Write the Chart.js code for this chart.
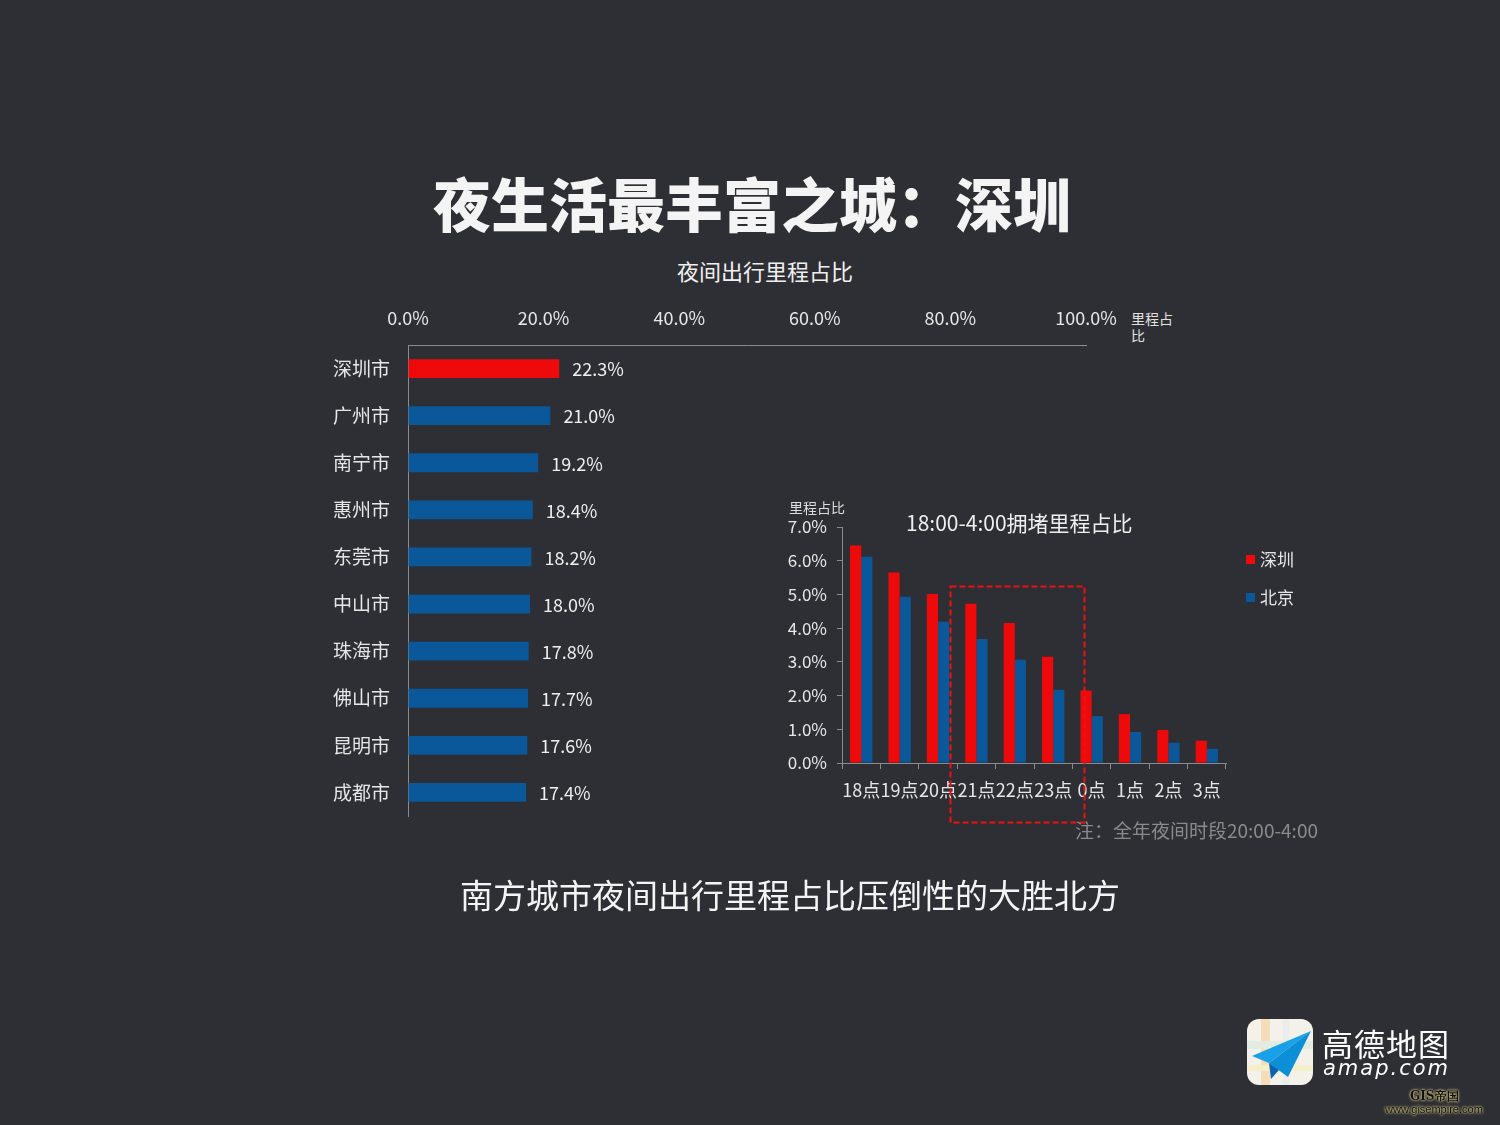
<!DOCTYPE html>
<html><head><meta charset="utf-8">
<script src="https://cdn.jsdelivr.net/npm/chart.js@4"></script>
<style>
html,body{margin:0;padding:0;background:#2e2f34;}
#page{position:relative;width:1500px;height:1125px;overflow:hidden;background:#2e2f34;font-family:"Noto Sans CJK SC","Noto Sans",sans-serif;color:#f2f2f2;}
.t{position:absolute;white-space:nowrap;line-height:1;}
canvas{position:absolute;}
</style></head>
<body><div id="page">
<div class="t" style="left:0;width:1504px;top:173px;text-align:center;font-size:58px;font-weight:900;color:#f4f4f4;">夜生活最丰富之城：深圳</div>
<div class="t" style="left:0;width:1530px;top:259px;text-align:center;font-size:22px;color:#f0f0f0;">夜间出行里程占比</div>
<div class="t" style="left:1131px;top:310px;font-size:14px;line-height:17px;color:#e0e0e0;">里程占<br>比</div>
<div style="position:absolute;left:300px;top:290px;width:900px;height:540px;"><canvas id="c1" width="900" height="540"></canvas></div>
<div class="t" style="left:789px;top:500px;font-size:14px;color:#dcdcdc;">里程占比</div>
<div class="t" style="left:906px;top:512px;font-size:21px;color:#eeeeee;">18:00-4:00拥堵里程占比</div>
<div style="position:absolute;left:760px;top:480px;width:480px;height:345px;"><canvas id="c2" width="480" height="345"></canvas></div>
<div style="position:absolute;left:1246px;top:555px;width:9px;height:9px;background:#ee0a0a;"></div>
<div class="t" style="left:1260px;top:550px;font-size:17px;color:#e6e6e6;">深圳</div>
<div style="position:absolute;left:1246px;top:593px;width:9px;height:9px;background:#0a589a;"></div>
<div class="t" style="left:1260px;top:588px;font-size:17px;color:#e6e6e6;">北京</div>
<svg style="position:absolute;left:0;top:0;" width="1500" height="1125">
<rect x="950.5" y="586.5" width="134" height="236" fill="none" stroke="#ee1111" stroke-width="2" stroke-dasharray="6,3"/>
</svg>
<div class="t" style="left:1075px;top:820px;font-size:19px;color:#8a8a8a;">注：全年夜间时段20:00-4:00</div>
<div class="t" style="left:0;width:1580px;top:878px;text-align:center;font-size:33px;color:#f4f4f4;">南方城市夜间出行里程占比压倒性的大胜北方</div>
<svg style="position:absolute;left:1247px;top:1019px;" width="66" height="66" viewBox="0 0 66 66">
<defs><clipPath id="rc"><rect x="0" y="0" width="66" height="66" rx="12"/></clipPath></defs>
<g clip-path="url(#rc)">
<rect width="66" height="66" fill="#f3f1ea"/>
<rect x="14" y="0" width="9" height="66" fill="#f4dcb8"/>
<rect x="0" y="22" width="66" height="8" fill="#e2ece0"/>
<rect x="36" y="0" width="6" height="66" fill="#ececec"/>
<rect x="0" y="46" width="66" height="6" fill="#f4efc8"/>
<polygon points="64,12 5,37 22,44" fill="#1aa0e6"/>
<polygon points="64,12 22,44 41,58" fill="#0d8fd8"/>
<polygon points="22,44 24,60 32,51" fill="#0a63b0"/>
</g></svg>
<div class="t" style="left:1322px;top:1027px;font-size:31px;color:#ffffff;letter-spacing:1px;">高德地图</div>
<div class="t" style="left:1323px;top:1058px;font-size:21px;color:#ffffff;font-style:italic;letter-spacing:2px;font-family:'DejaVu Sans',sans-serif;">amap.com</div>
<div class="t" style="left:1410px;top:1090px;font-size:12px;font-weight:bold;color:#111;text-shadow:0 0 3px #e8d890,0 0 2px #e8d890;font-family:'DejaVu Serif',serif;">GIS帝国</div>
<div class="t" style="left:1385px;top:1104px;font-size:11px;color:#111;text-shadow:0 0 3px #e8d890,0 0 2px #e8d890;font-family:'Liberation Sans',sans-serif;">www.gisempire.com</div>
</div>
<script>
// ---- data ----
const cities = ['深圳市','广州市','南宁市','惠州市','东莞市','中山市','珠海市','佛山市','昆明市','成都市'];
const cityShare = [22.3, 21.0, 19.2, 18.4, 18.2, 18.0, 17.8, 17.7, 17.6, 17.4];
const shareTicks = [0, 20, 40, 60, 80, 100];
const hours = ['18点','19点','20点','21点','22点','23点','0点','1点','2点','3点'];
const shenzhenJam = [6.45, 5.65, 5.01, 4.72, 4.15, 3.15, 2.15, 1.45, 0.98, 0.66];
const beijingJam = [6.12, 4.93, 4.19, 3.68, 3.06, 2.17, 1.39, 0.92, 0.60, 0.42];
const jamTicks = [0, 1, 2, 3, 4, 5, 6, 7];

const RED = '#ee0a0a', BLUE = '#0a589a';
const FONT = '"Noto Sans CJK SC","Noto Sans",sans-serif';
Chart.defaults.font.family = FONT;
Chart.defaults.color = '#e6e6e6';
Chart.defaults.animation = false;

const valueLabels = {
  id: 'valueLabels',
  afterDatasetsDraw(chart) {
    const ctx = chart.ctx;
    const meta = chart.getDatasetMeta(0);
    ctx.save();
    ctx.font = '18px ' + FONT;
    ctx.fillStyle = '#eeeeee';
    ctx.textAlign = 'left';
    ctx.textBaseline = 'middle';
    meta.data.forEach((bar, i) => {
      ctx.fillText(chart.data.datasets[0].data[i].toFixed(1) + '%', bar.x + 13, bar.y + 1);
    });
    ctx.restore();
  }
};

new Chart(document.getElementById('c1'), {
  type: 'bar',
  data: {
    labels: cities,
    datasets: [{
      data: cityShare,
      backgroundColor: cities.map((c, i) => i === 0 ? RED : BLUE),
      barPercentage: 0.8,
      categoryPercentage: 0.5
    }]
  },
  options: {
    indexAxis: 'y',
    responsive: false,
    layout: { padding: { left: 0, right: 114, top: 0, bottom: 14 } },
    plugins: { legend: { display: false }, tooltip: { enabled: false } },
    scales: {
      x: {
        position: 'top', min: 0, max: 100,
        afterBuildTicks: s => { s.ticks = shareTicks.map(v => ({ value: v })); },
        afterFit: s => { s.height = 55; },
        ticks: { callback: v => Number(v).toFixed(1) + '%', font: { size: 18 }, color: '#e6e6e6', padding: 16, maxRotation: 0 },
        grid: { color: 'transparent', drawTicks: false },
        border: { display: true, color: '#8c8c8c', width: 1 }
      },
      y: {
        afterFit: s => { s.width = 108; s.paddingTop = 0; s.paddingBottom = 0; },
        ticks: { font: { size: 19 }, color: '#e6e6e6', padding: 18 },
        grid: { color: 'transparent', drawTicks: false },
        border: { display: true, color: '#8c8c8c', width: 1 }
      }
    }
  },
  plugins: [valueLabels]
});

new Chart(document.getElementById('c2'), {
  type: 'bar',
  data: {
    labels: hours,
    datasets: [
      { label: '深圳', data: shenzhenJam, backgroundColor: RED, barPercentage: 1.0, categoryPercentage: 0.58 },
      { label: '北京', data: beijingJam, backgroundColor: BLUE, barPercentage: 1.0, categoryPercentage: 0.58 }
    ]
  },
  options: {
    responsive: false,
    layout: { padding: { left: 0, right: 14, top: 47, bottom: 0 } },
    plugins: { legend: { display: false }, tooltip: { enabled: false } },
    scales: {
      x: {
        afterFit: s => { s.height = 62; },
        ticks: { font: { size: 18 }, color: '#e6e6e6', padding: 10, maxRotation: 0, autoSkip: false },
        grid: { color: 'transparent', tickColor: '#8c8c8c', tickLength: 6, offset: true },
        border: { display: true, color: '#8c8c8c', width: 1 }
      },
      y: {
        min: 0, max: 7,
        afterBuildTicks: s => { s.ticks = jamTicks.map(v => ({ value: v })); },
        afterFit: s => { s.width = 82; },
        ticks: { callback: v => Number(v).toFixed(1) + '%', font: { size: 17 }, color: '#e6e6e6', padding: 10 },
        grid: { color: 'transparent', tickColor: '#8c8c8c', tickLength: 5 },
        border: { display: true, color: '#8c8c8c', width: 1 }
      }
    }
  }
});
</script>
</body></html>
